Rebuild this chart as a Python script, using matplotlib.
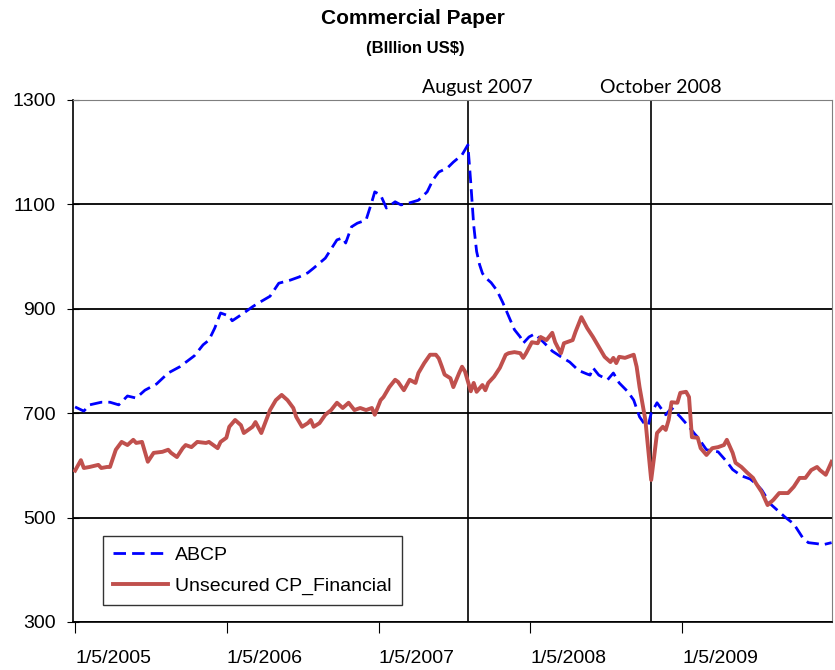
import matplotlib as mpl
mpl.use('Agg')
import matplotlib.pyplot as plt
import numpy as np
import pandas as pd

plt.rcParams['font.family'] = ['Liberation Sans', 'DejaVu Sans']

# weekly data, week 0 = 1/5/2005
start = pd.Timestamp('2005-01-05')

abcp_weeks = [0, 3, 5, 9, 12, 15, 18, 21, 24, 28, 32, 36, 41, 44, 46, 48, 50, 53, 54, 58,
              61, 63, 67, 70, 74, 77, 80, 82, 86, 90, 92, 93, 95, 97, 100, 102, 103, 105, 107, 110,
              112, 115, 118, 121, 123, 125, 128, 130, 133, 135, 136, 137, 138, 139, 140, 141, 143, 145, 147, 149,
              151, 153, 154, 156, 158, 161, 164, 167, 170, 173, 176, 177, 178, 180, 183, 185, 187, 190, 192, 194,
              196, 197, 198, 200, 203, 205, 208, 211, 213, 214, 217, 221, 224, 226, 229, 232, 234, 236, 239, 242,
              244, 247, 250, 252, 255, 257, 260]
abcp = [712, 704, 716, 721, 721, 716, 733, 729, 744, 756, 777, 789, 810, 831, 840, 863, 892, 886, 877, 892,
        904, 911, 924, 949, 955, 961, 969, 978, 997, 1032, 1036, 1026, 1057, 1064, 1070, 1105, 1124, 1118, 1093, 1105,
        1099, 1103, 1108, 1124, 1147, 1162, 1170, 1181, 1195, 1214, 1141, 1060, 1010, 985, 968, 960, 950, 935, 912, 886,
        860, 846, 834, 846, 852, 836, 819, 808, 798, 782, 775, 773, 787, 773, 764, 777, 758, 741, 725, 693,
        677, 677, 700, 720, 697, 710, 693, 674, 660, 654, 630, 626, 607, 592, 580, 574, 565, 553, 526, 511,
        501, 488, 462, 452, 450, 448, 452]

ucp_weeks = [0, 2, 3, 5, 8, 9, 11, 12, 14, 16, 18, 20, 21, 23, 25, 27, 30, 32, 33, 35,
             37, 38, 40, 42, 45, 46, 49, 50, 52, 53, 55, 57, 58, 61, 62, 64, 67, 69, 71, 73,
             75, 76, 78, 80, 81, 82, 84, 86, 88, 90, 92, 94, 96, 98, 100, 102, 103, 105, 106, 108,
             110, 111, 113, 115, 117, 118, 120, 122, 124, 125, 126, 127, 129, 130, 132, 133, 134, 136, 137, 138,
             140, 141, 142, 144, 146, 148, 149, 151, 153, 154, 155, 157, 159, 160, 162, 164, 165, 166, 167, 168,
             171, 172, 174, 176, 178, 180, 182, 184, 185, 186, 187, 189, 190, 192, 193, 194, 196, 197, 198, 199,
             200, 202, 203, 204, 205, 207, 208, 210, 211, 212, 214, 215, 217, 219, 221, 223, 224, 226, 227, 229,
             231, 233, 234, 236, 238, 240, 242, 245, 247, 249, 251, 253, 255, 256, 258, 260]
ucp = [590, 610, 595, 597, 601, 595, 597, 597, 630, 645, 639, 649, 643, 645, 607, 624, 626, 630, 624, 616,
       633, 639, 635, 645, 643, 645, 633, 645, 653, 674, 687, 677, 662, 674, 683, 662, 706, 725, 735, 725,
       710, 693, 674, 681, 687, 674, 681, 697, 706, 720, 710, 720, 706, 710, 706, 710, 697, 725, 731, 750,
       764, 760, 744, 764, 758, 777, 796, 812, 812, 805, 790, 774, 767, 750, 777, 789, 780, 742, 758, 741,
       754, 744, 758, 770, 787, 812, 815, 817, 815, 806, 815, 836, 834, 846, 840, 854, 836, 825, 815, 834,
       840, 856, 884, 863, 846, 827, 808, 798, 806, 796, 808, 806, 808, 812, 789, 750, 687, 630, 572, 616,
       662, 674, 668, 687, 721, 720, 739, 741, 731, 654, 653, 633, 620, 633, 635, 639, 649, 624, 605, 597,
       586, 576, 566, 549, 524, 534, 547, 547, 559, 576, 576, 591, 597, 591, 582, 607]

events = ['2007-08-08', '2008-10-22']
event_labels = ['August 2007', 'October 2008']
tick_dates = ['2005-01-05', '2006-01-05', '2007-01-05', '2008-01-05', '2009-01-05']
tick_labels = ['1/5/2005', '1/5/2006', '1/5/2007', '1/5/2008', '1/5/2009']

abcp_dates = start + pd.to_timedelta(np.array(abcp_weeks) * 7, unit='D')
ucp_dates = start + pd.to_timedelta(np.array(ucp_weeks) * 7, unit='D')

fig = plt.figure(figsize=(8.35, 6.7), dpi=100)
ax = fig.add_axes([73/835, 48/670, 759/835, 522/670])

ax.plot(abcp_dates, abcp, color='#0000FF', lw=2.0, dashes=(4.5, 2.2), label='ABCP', zorder=3)
ax.plot(ucp_dates, ucp, color='#C0504D', lw=2.8, label='Unsecured CP_Financial', zorder=3)

ax.set_ylim(300, 1300)
ax.set_yticks(range(300, 1301, 200))
ax.set_xlim(pd.Timestamp('2004-12-31'), pd.Timestamp('2009-12-31'))
ax.set_xticks(pd.to_datetime(tick_dates))
ax.set_xticklabels(tick_labels, ha='left')

ax.yaxis.grid(True, color='black', lw=1.3)
ax.set_axisbelow(True)

for d, lab in zip(events, event_labels):
    ax.axvline(pd.Timestamp(d), color='black', lw=1.2, zorder=2)
    ax.annotate(lab, xy=(pd.Timestamp(d), 1300), xytext=(7, 3), textcoords='offset points',
                ha='center', va='bottom', fontsize=14, family=['Lato', 'DejaVu Sans'])

for s in ax.spines.values():
    s.set_color('#7f7f7f')
ax.spines['left'].set_color('black')
ax.spines['bottom'].set_color('black')
ax.spines['left'].set_linewidth(1.2)
ax.spines['bottom'].set_linewidth(1.2)

ax.tick_params(axis='y', direction='inout', length=9, labelsize=14, pad=8)
ax.tick_params(axis='x', direction='out', length=8, labelsize=14, pad=12)

leg = ax.legend(loc='lower left', bbox_to_anchor=(0.04, 0.033), borderaxespad=0, fontsize=14,
                frameon=True, fancybox=False, edgecolor='black', handlelength=2.8,
                handletextpad=0.4, borderpad=0.5, labelspacing=0.7)
leg.get_frame().set_linewidth(1.0)

fig.text(0.495, 0.972, 'Commercial Paper', ha='center', va='center', fontsize=15, fontweight='bold')
fig.text(0.497, 0.928, '(BIllion US$)', ha='center', va='center', fontsize=12, fontweight='bold')

fig.savefig('out.png', dpi=100)
